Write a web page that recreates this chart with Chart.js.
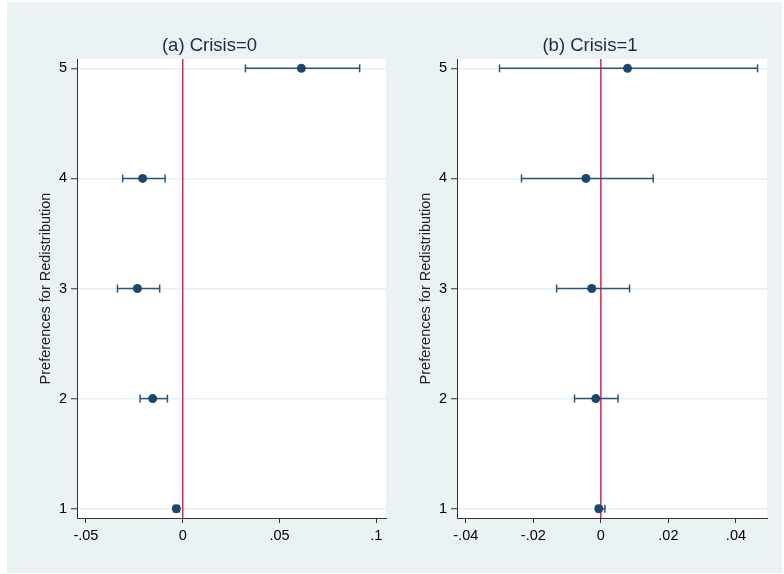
<!DOCTYPE html>
<html>
<head>
<meta charset="utf-8">
<script src="https://cdn.jsdelivr.net/npm/chart.js@4.4.1/dist/chart.umd.min.js"></script>
<style>
    html, body { margin: 0; padding: 0; background: #fff; }
    #frame { position: absolute; left: 7px; top: 2px; width: 775px; height: 571px; background: #eaf2f3; }
    canvas { position: absolute; top: 2px; }
    #chartA { left: 7px; }
    #chartB { left: 387px; }
</style>
</head>
<body>
<div id="frame"></div>
<canvas id="chartA" width="400" height="571"></canvas>
<canvas id="chartB" width="395" height="571"></canvas>
<script>
// Categories (preference for redistribution levels)
const categories = [1, 2, 3, 4, 5];

// (a) Crisis=0
const estA = [-0.0033, -0.0155, -0.0234, -0.0207, 0.0613];
const lowA = [-0.0047, -0.0220, -0.0337, -0.0310, 0.0324];
const highA = [-0.0018, -0.0079, -0.0119, -0.0091, 0.0914];

// (b) Crisis=1
const estB = [-0.0006, -0.0015, -0.0027, -0.0044, 0.0079];
const lowB = [-0.0013, -0.0078, -0.0131, -0.0235, -0.0300];
const highB = [0.0012, 0.0051, 0.0085, 0.0155, 0.0464];

// Tick values and labels
const yTicks = [1, 2, 3, 4, 5];
const xTicksA = [-0.05, 0, 0.05, 0.1];
const xLabelsA = ['-.05', '0', '.05', '.1'];
const xTicksB = [-0.04, -0.02, 0, 0.02, 0.04];
const xLabelsB = ['-.04', '-.02', '0', '.02', '.04'];

const Y_MIN = 0.915;
const Y_MAX = 5.085;

const NAVY = '#1a476f';
const BAR = '#2b5579';
const RED = '#dc2350';

Chart.defaults.font.family = '"Liberation Sans", Arial, Helvetica, sans-serif';
Chart.defaults.animation = false;

// white plot region
const plotBg = {
    id: 'plotBg',
    beforeDraw(chart) {
        const { ctx, chartArea: a } = chart;
        ctx.save();
        ctx.fillStyle = '#ffffff';
        ctx.fillRect(a.left, a.top, a.right - a.left, a.bottom - a.top);
        ctx.restore();
    }
};

// panel title, centred a bit left of the plot region like Stata does
const panelTitle = {
    id: 'panelTitle',
    afterDraw(chart, args, opts) {
        const { ctx, chartArea: a } = chart;
        ctx.save();
        ctx.font = '18.5px "Liberation Sans", Arial, Helvetica, sans-serif';
        ctx.fillStyle = '#1c2b4a';
        ctx.textAlign = 'center';
        ctx.textBaseline = 'middle';
        ctx.fillText(opts.text, (a.left + a.right) / 2 + opts.shift, 44);
        ctx.restore();
    }
};

function buildDatasets(est, low, high) {
    const sets = [];
    // point estimates (first = drawn on top)
    sets.push({
        data: est.map((v, i) => ({ x: v, y: categories[i] })),
        pointRadius: 4.5,
        pointBackgroundColor: NAVY,
        pointBorderColor: NAVY,
        pointBorderWidth: 0,
        showLine: false
    });
    // confidence intervals with caps
    categories.forEach((c, i) => {
        sets.push({
            data: [{ x: low[i], y: c }, { x: high[i], y: c }],
            showLine: true,
            borderColor: BAR,
            borderWidth: 1.5,
            pointStyle: 'line',
            pointRadius: 4,
            pointRotation: 90,
            pointBorderColor: BAR,
            pointBorderWidth: 1.5
        });
    });
    // zero reference line
    sets.push({
        data: [{ x: 0, y: Y_MIN }, { x: 0, y: Y_MAX }],
        showLine: true,
        borderColor: RED,
        borderWidth: 1.5,
        pointRadius: 0
    });
    return sets;
}

function makeChart(id, est, low, high, xTicks, xLabels, xMin, xMax, title, padRight) {
    const ctx = document.getElementById(id).getContext('2d');
    return new Chart(ctx, {
        type: 'scatter',
        data: { datasets: buildDatasets(est, low, high) },
        options: {
            responsive: false,
            layout: { padding: { top: 57, right: padRight, left: 0, bottom: 0 } },
            plugins: {
                legend: { display: false },
                tooltip: { enabled: false },
                panelTitle: { text: title, shift: -22 }
            },
            scales: {
                x: {
                    type: 'linear',
                    min: xMin,
                    max: xMax,
                    afterBuildTicks: (s) => { s.ticks = xTicks.map(v => ({ value: v })); },
                    afterFit: (s) => { s.height = 55; },
                    ticks: {
                        autoSkip: false,
                        maxRotation: 0,
                        padding: 4,
                        color: '#000',
                        font: { size: 14.5 },
                        callback: (v) => {
                            const i = xTicks.findIndex(t => Math.abs(t - v) < 1e-9);
                            return i >= 0 ? xLabels[i] : '';
                        }
                    },
                    grid: { drawOnChartArea: false, tickLength: 5, tickColor: '#333', tickWidth: 1 },
                    border: { display: true, color: '#333', width: 1 }
                },
                y: {
                    type: 'linear',
                    min: Y_MIN,
                    max: Y_MAX,
                    afterBuildTicks: (s) => { s.ticks = yTicks.map(v => ({ value: v })); },
                    afterFit: (s) => { s.width = 70; },
                    ticks: {
                        autoSkip: false,
                        padding: 4,
                        color: '#000',
                        font: { size: 14.5 },
                        callback: (v) => String(v)
                    },
                    title: {
                        display: true,
                        text: 'Preferences for Redistribution',
                        color: '#222',
                        font: { size: 14.5 },
                        padding: { top: 30, bottom: 0 }
                    },
                    grid: { color: '#e6eff1', lineWidth: 1.5, tickLength: 6, tickColor: '#333', tickWidth: 1 },
                    border: { display: true, color: '#333', width: 1 }
                }
            }
        },
        plugins: [plotBg, panelTitle]
    });
}

makeChart('chartA', estA, lowA, highA, xTicksA, xLabelsA, -0.0546, 0.105, '(a) Crisis=0', 21);
makeChart('chartB', estB, lowB, highB, xTicksB, xLabelsB, -0.0426, 0.0492, '(b) Crisis=1', 15);
</script>
</body>
</html>
